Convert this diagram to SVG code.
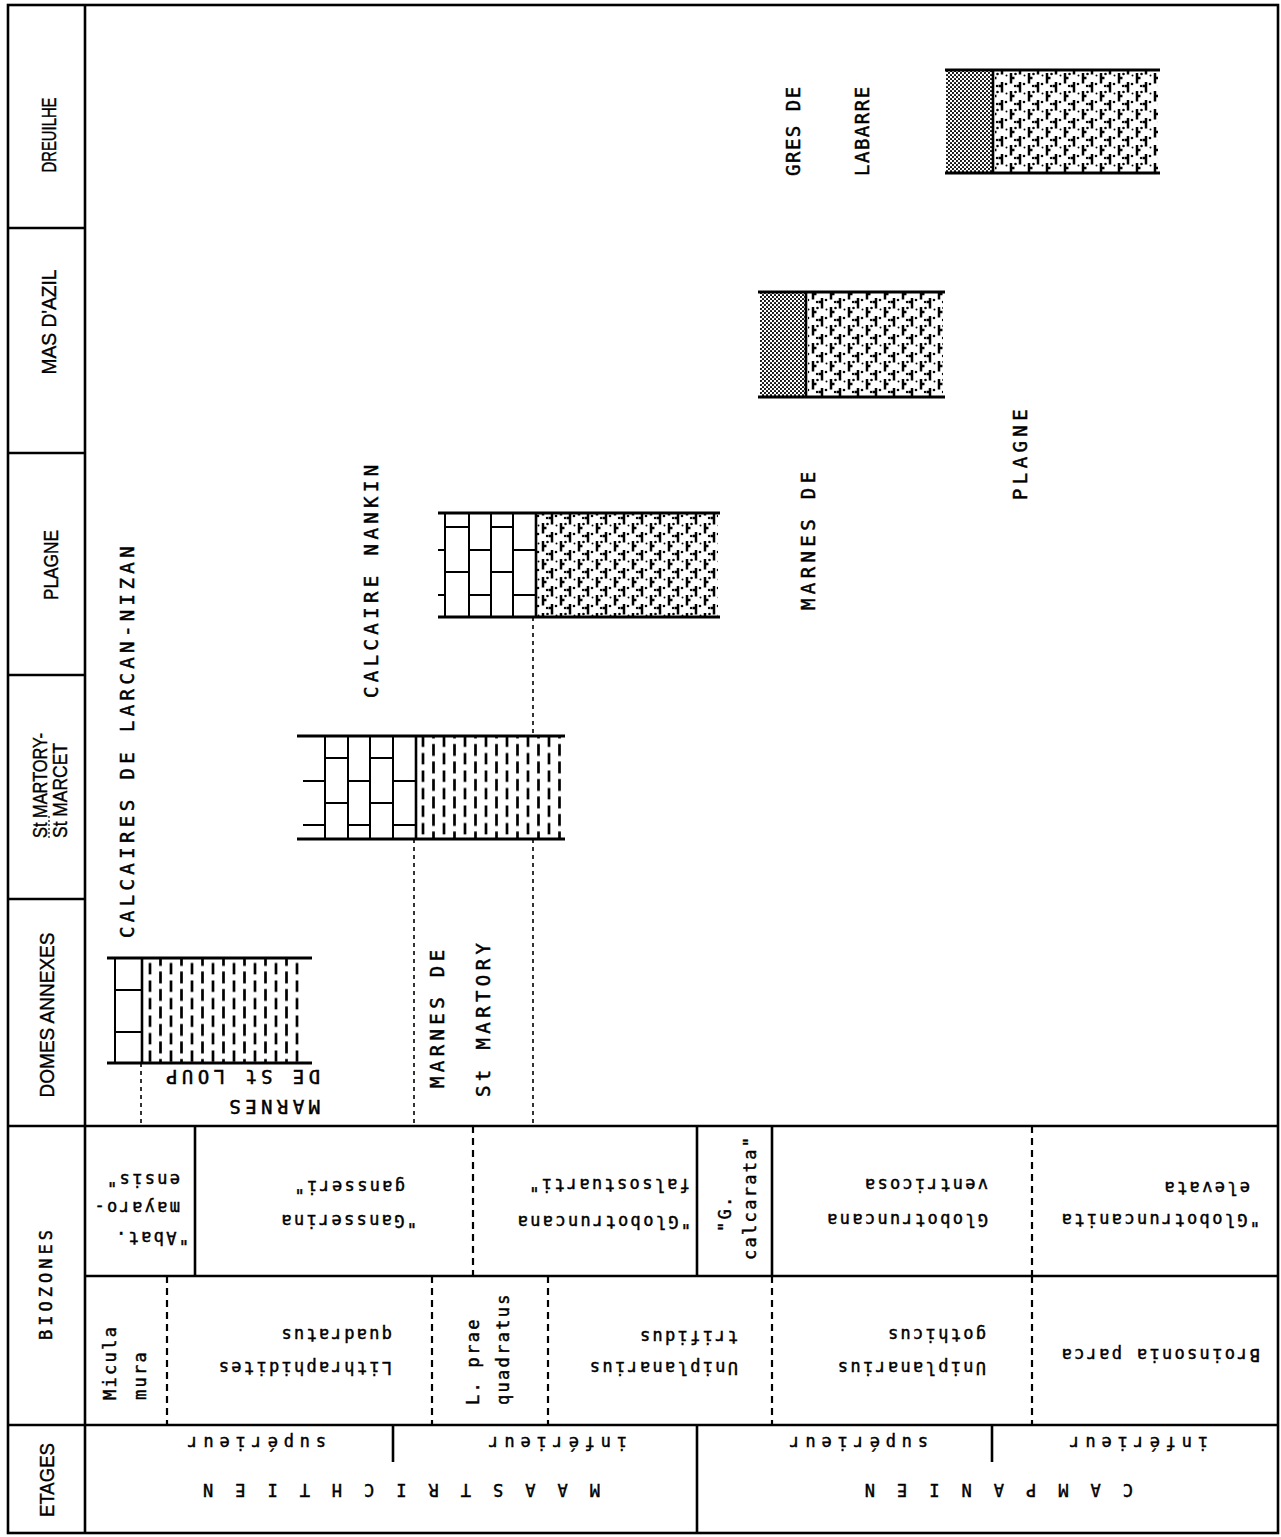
<svg xmlns="http://www.w3.org/2000/svg" width="1281" height="1537" viewBox="0 0 1281 1537">
<defs>
<style>
.frame{fill:none;stroke:#000;stroke-width:2.6}
.ln{stroke:#000;stroke-width:2.6;fill:none}
.thin{stroke:#000;stroke-width:2;fill:none}
.dash{stroke:#000;stroke-width:2.2;stroke-dasharray:7 5;fill:none}
.dot{stroke:#000;stroke-width:1.6;stroke-dasharray:4 4;fill:none}
.bed{stroke:#000;stroke-width:3.2}
.col{font-family:"Liberation Sans",Arial,sans-serif;font-size:21px;fill:#000;stroke:#000;stroke-width:0.4}
.lab{font-family:"DejaVu Sans Mono","Liberation Mono",monospace;font-size:19px;letter-spacing:4.4px;fill:#000;stroke:#000;stroke-width:0.5}
.bz{font-family:"DejaVu Sans Mono","Liberation Mono",monospace;font-size:17px;letter-spacing:2.3px;fill:#000;stroke:#000;stroke-width:0.45}
.et{font-family:"DejaVu Sans Mono","Liberation Mono",monospace;font-size:17px;letter-spacing:5.8px;fill:#000;stroke:#000;stroke-width:0.45}
.big{font-family:"DejaVu Sans Mono","Liberation Mono",monospace;font-size:17px;letter-spacing:22px;fill:#000;stroke:#000;stroke-width:0.45}
text{dominant-baseline:central}
</style>
<pattern id="marl" patternUnits="userSpaceOnUse" width="21" height="17.5">
<path d="M3,0.5V12 M13.5,9V17.5 M13.5,0V3.5" stroke="#000" stroke-width="2.7"/>
</pattern>
<pattern id="marldot" patternUnits="userSpaceOnUse" width="18" height="18">
<path d="M3,1V11.5 M3,6H6.5 M12,10V18 M12,0V2.5 M12,14H8.5" stroke="#000" stroke-width="2.5"/>
<circle cx="7.5" cy="2" r="1.3"/>
<circle cx="16" cy="12" r="1.3"/>
<circle cx="7" cy="14" r="1.2"/>
<circle cx="16.5" cy="3.5" r="1"/>
</pattern>
<pattern id="grey" patternUnits="userSpaceOnUse" width="4" height="4">
<circle cx="1" cy="1" r="1.05"/>
<circle cx="3" cy="3" r="1.05"/>
</pattern>
</defs>
<rect width="1281" height="1537" fill="#fff"/>

<g id="grid">
<rect class="frame" x="8" y="5" width="1270" height="1528"/>
<path class="ln" d="M85,5V1533 M8,228H85 M8,453H85 M8,675H85 M8,899H85 M8,1126H1278 M85,1276H1278 M8,1425H1278"/>
<path class="ln" d="M195,1126V1276 M697,1126V1276 M772,1126V1276 M697,1425V1533 M393,1425V1462 M992,1425V1462"/>
<path class="dash" d="M473,1126V1276 M1032,1126V1276 M167,1276V1425 M432,1276V1425 M548,1276V1425 M772,1276V1425 M1032,1276V1425"/>
</g>

<g id="column-labels">
<text class="col" transform="rotate(-90 48 135)" x="48" y="135" text-anchor="middle" textLength="75" lengthAdjust="spacingAndGlyphs">DREUILHE</text>
<text class="col" transform="rotate(-90 48 322)" x="48" y="322" text-anchor="middle" textLength="105" lengthAdjust="spacingAndGlyphs">MAS D'AZIL</text>
<text class="col" transform="rotate(-90 50 565)" x="50" y="565" text-anchor="middle" textLength="70" lengthAdjust="spacingAndGlyphs">PLAGNE</text>
<text class="col" transform="rotate(-90 39 838)" x="39" y="838" textLength="105" lengthAdjust="spacingAndGlyphs">St MARTORY-</text>
<text class="col" transform="rotate(-90 59 838)" x="59" y="838" textLength="95" lengthAdjust="spacingAndGlyphs">St MARCET</text>
<path class="dot" style="stroke-width:1.2;stroke-dasharray:2 2" d="M49,838V816"/>
<text class="col" transform="rotate(-90 46 1015)" x="46" y="1015" text-anchor="middle" textLength="165" lengthAdjust="spacingAndGlyphs">DOMES ANNEXES</text>
<text class="bz" style="letter-spacing:4px" transform="rotate(-90 46 1340)" x="46" y="1340">BIOZONES</text>
<text class="col" transform="rotate(-90 46 1517)" x="46" y="1517" textLength="74" lengthAdjust="spacingAndGlyphs">ETAGES</text>
</g>

<g id="connectors">
<path class="dot" d="M141,1063V1126 M414,839V1126 M533,617V736 M533,839V1126"/>
</g>

<g id="block-domes">
<rect x="142" y="958" width="160" height="105" fill="url(#marl)"/>
<path class="thin" d="M115,958V1063 M115,990H142 M115,1032H142"/>
<path class="ln" d="M142,958V1063"/>
<path class="bed" d="M107,958H312 M107,1063H312"/>
</g>

<g id="block-stmartory">
<rect x="417" y="736" width="145" height="103" fill="url(#marl)"/>
<path class="thin" d="M325,736V839 M348,736V839 M370,736V839 M393,736V839 M303,781H325 M303,825H325 M325,758H348 M325,803H348 M348,781H370 M348,825H370 M370,758H393 M370,803H393 M393,781H416 M393,825H416"/>
<path class="ln" d="M416,736V839"/>
<path class="bed" d="M297,736H565 M297,839H565"/>
</g>

<g id="block-plagne">
<rect x="537" y="513" width="181" height="104" fill="url(#marldot)"/>
<path class="thin" d="M445,513V617 M469,513V617 M491,513V617 M513,513V617 M438,550H445 M438,595H445 M445,527H469 M445,572H469 M469,550H491 M469,595H491 M491,527H513 M491,572H513 M513,550H536 M513,595H536"/>
<path class="ln" d="M536,513V617"/>
<path class="bed" d="M438,513H720 M438,617H720"/>
</g>

<g id="block-masdazil">
<rect x="760" y="292" width="46" height="105" fill="url(#grey)"/>
<rect x="808" y="292" width="135" height="105" fill="url(#marldot)"/>
<path class="ln" d="M806,292V397"/>
<path class="bed" d="M758,292H945 M758,397H945"/>
</g>

<g id="block-dreuilhe">
<rect x="946" y="70" width="47" height="103" fill="url(#grey)"/>
<rect x="995" y="70" width="163" height="103" fill="url(#marldot)"/>
<path class="ln" d="M993,70V173"/>
<path class="bed" d="M945,70H1160 M945,173H1160"/>
</g>

<g id="formation-labels">
<text class="lab" transform="rotate(-90 127 938)" x="127" y="938">CALCAIRES DE LARCAN-NIZAN</text>
<text class="lab" transform="rotate(-90 371 698)" x="371" y="698">CALCAIRE NANKIN</text>
<text class="lab" transform="rotate(-90 808 610)" x="808" y="610">MARNES DE</text>
<text class="lab" transform="rotate(-90 1020 500)" x="1020" y="500">PLAGNE</text>
<text class="lab" style="letter-spacing:1.5px" transform="rotate(-90 793 176)" x="793" y="176">GRES DE</text>
<text class="lab" style="letter-spacing:1.5px" transform="rotate(-90 862 176)" x="862" y="176">LABARRE</text>
<text class="lab" transform="rotate(-90 437 1088)" x="437" y="1088">MARNES DE</text>
<text class="lab" transform="rotate(-90 483 1097)" x="483" y="1097">St MARTORY</text>
<text class="lab" transform="rotate(180 320 1107)" x="320" y="1107">MARNES</text>
<text class="lab" transform="rotate(180 320 1077)" x="320" y="1077">DE St LOUP</text>
</g>

<g id="biozones-foram">
<text class="bz" transform="rotate(180 189 1238)" x="189" y="1238">"Abat.</text>
<text class="bz" transform="rotate(180 180 1208)" x="180" y="1208">mayaro-</text>
<text class="bz" transform="rotate(180 180 1180)" x="180" y="1180">ensis"</text>
<text class="bz" transform="rotate(180 417 1221)" x="417" y="1221">"Gansserina</text>
<text class="bz" transform="rotate(180 405 1187)" x="405" y="1187">gansseri"</text>
<text class="bz" transform="rotate(180 691 1222)" x="691" y="1222">"Globotruncana</text>
<text class="bz" transform="rotate(180 690 1185)" x="690" y="1185">falsostuarti"</text>
<text class="bz" transform="rotate(-90 725 1232)" x="725" y="1232">"G.</text>
<text class="bz" transform="rotate(-90 750 1260)" x="750" y="1260">calcarata"</text>
<text class="bz" transform="rotate(180 988 1220)" x="988" y="1220">Globotruncana</text>
<text class="bz" transform="rotate(180 988 1185)" x="988" y="1185">ventricosa</text>
<text class="bz" transform="rotate(180 1260 1220)" x="1260" y="1220">"Globotruncanita</text>
<text class="bz" transform="rotate(180 1250 1188)" x="1250" y="1188">elevata</text>
</g>

<g id="biozones-nanno">
<text class="bz" transform="rotate(-90 110 1400)" x="110" y="1400">Micula</text>
<text class="bz" transform="rotate(-90 140 1400)" x="140" y="1400">mura</text>
<text class="bz" transform="rotate(180 392 1368)" x="392" y="1368">Lithraphidites</text>
<text class="bz" transform="rotate(180 392 1335)" x="392" y="1335">quadratus</text>
<text class="bz" transform="rotate(-90 473 1405)" x="473" y="1405">L. prae</text>
<text class="bz" transform="rotate(-90 503 1405)" x="503" y="1405">quadratus</text>
<text class="bz" transform="rotate(180 738 1368)" x="738" y="1368">Uniplanarius</text>
<text class="bz" transform="rotate(180 738 1337)" x="738" y="1337">trifidus</text>
<text class="bz" transform="rotate(180 986 1368)" x="986" y="1368">Uniplanarius</text>
<text class="bz" transform="rotate(180 986 1335)" x="986" y="1335">gothicus</text>
<text class="bz" transform="rotate(180 1260 1355)" x="1260" y="1355">Broinsonia parca</text>
</g>

<g id="etages">
<text class="et" transform="rotate(180 326 1443)" x="326" y="1443">supérieur</text>
<text class="et" transform="rotate(180 627 1443)" x="627" y="1443">inférieur</text>
<text class="et" transform="rotate(180 928 1443)" x="928" y="1443">supérieur</text>
<text class="et" transform="rotate(180 1208 1443)" x="1208" y="1443">inférieur</text>
<text class="big" transform="rotate(180 600 1490)" x="600" y="1490">MAASTRICHTIEN</text>
<text class="big" transform="rotate(180 1133 1490)" x="1133" y="1490">CAMPANIEN</text>
</g>
</svg>
